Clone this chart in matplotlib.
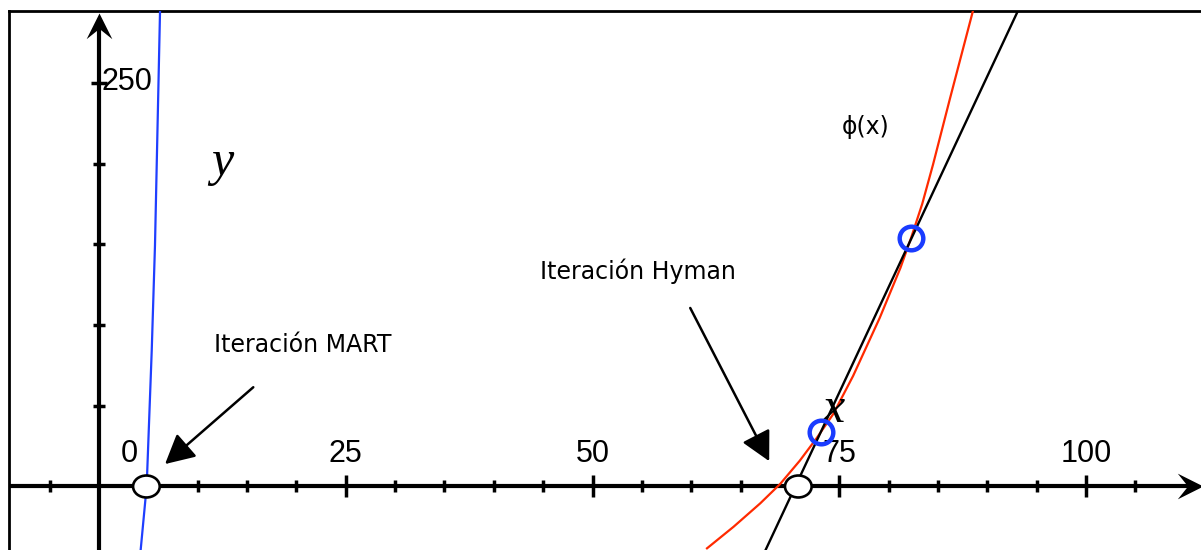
import numpy as np
import matplotlib.pyplot as plt
from matplotlib.patches import Ellipse
from matplotlib.path import Path

# curves
blue_x = [4.22, 4.83, 5.34, 5.67, 6.18, 6.25]
blue_y = [-39.3, 0.3, 84.1, 149.3, 294.0, 300.0]

red_x = [61.6, 64.3, 67.0, 69.0, 71.0, 72.7, 74.4, 76.4, 79.1, 81.2, 82.3, 83.4, 84.5, 86.2, 88.6, 88.8]
red_y = [-38.3, -24.9, -10.4, 1.5, 16.0, 29.9, 45.0, 68.5, 104.5, 135.5, 154.5, 175.0, 199.5, 240.0, 296.0, 300.0]

secant_x = [67.1, 93.2]
secant_y = [-45.0, 296.0]

iter_x = [73.1, 82.3]
iter_y = [34.0, 153.8]

root_x = [4.8, 70.85]
root_y = [0.0, 0.0]

major_ticks = [25, 50, 75, 100]
minor_ticks = [-5, 5, 10, 15, 20, 30, 35, 40, 45, 55, 60, 65, 70, 80, 85, 90, 95, 105]
y_minor = [50, 100, 150, 200]
y_major = [250]
tick_labels = ['0', '25', '50', '75', '100']
tick_label_x = [3.1, 25, 50, 75, 100]

fig = plt.figure(figsize=(12.01, 5.5), dpi=100)
ax = fig.add_axes([9/1201, -10/550, 1.0, 549/550])
ax.set_xlim(-9.12, 112.56)
ax.set_ylim(-45.54, 294.6)
ax.set_xticks([])
ax.set_yticks([])
for s in ['left', 'top']:
    ax.spines[s].set_linewidth(2)
for s in ['right', 'bottom']:
    ax.spines[s].set_visible(False)

# arrow-shaped markers for the axes ends
head_right = Path([(0, 0), (-1, 0.5), (-0.6, 0), (-1, -0.5), (0, 0)],
                  [Path.MOVETO, Path.LINETO, Path.LINETO, Path.LINETO, Path.CLOSEPOLY])
head_up = Path([(0, 0), (-0.5, -1), (0, -0.6), (0.5, -1), (0, 0)],
               [Path.MOVETO, Path.LINETO, Path.LINETO, Path.LINETO, Path.CLOSEPOLY])

ax.plot([-9.12, 110.8], [0, 0], color='black', lw=3, solid_capstyle='butt', zorder=2)
ax.plot([0, 0], [-46, 287], color='black', lw=3, solid_capstyle='butt', zorder=2)
ax.plot([111.85], [0], marker=head_right, ms=37, color='black', mew=0, zorder=3)
ax.plot([0], [293.2], marker=head_up, ms=37, color='black', mew=0, zorder=3)

# ticks
ax.plot(minor_ticks, [0]*len(minor_ticks), ls='none', marker='|', ms=8, mew=2.5, color='black', zorder=2)
ax.plot(major_ticks, [0]*len(major_ticks), ls='none', marker='|', ms=16, mew=2.5, color='black', zorder=2)
ax.plot([0]*len(y_minor), y_minor, ls='none', marker='_', ms=8, mew=2.5, color='black', zorder=2)
ax.plot([0]*len(y_major), y_major, ls='none', marker='_', ms=11, mew=2.5, color='black', zorder=2)

for lx, lab in zip(tick_label_x, tick_labels):
    ax.text(lx, 15.4, lab, ha='center', va='baseline', fontsize=22, family='Liberation Sans')
ax.text(0.3, 245.7, '250', ha='left', va='baseline', fontsize=22, family='Liberation Sans')

# curves
ax.plot(blue_x, blue_y, color='#1f3fff', lw=1.6, zorder=4)
ax.plot(red_x, red_y, color='#ff2a00', lw=1.6, zorder=4)
ax.plot(secant_x, secant_y, color='black', lw=1.7, zorder=4)

ax.plot(iter_x, iter_y, ls='none', marker='o', ms=17, mfc='none', mec='#1a3cff', mew=3.2, zorder=6)

for rx, ry in zip(root_x, root_y):
    ax.add_patch(Ellipse((rx, ry), 2.7, 13.6, facecolor='white', edgecolor='black', lw=1.9, zorder=7))

# labels
ax.text(12.5, 193.2, 'y', fontsize=36, style='italic', family='Liberation Serif', ha='center', va='baseline')
ax.text(74.4, 40.1, 'x', fontsize=36, style='italic', family='Liberation Serif', ha='center', va='baseline', zorder=5)
ax.text(77.7, 222.7, '\u03d5(x)', fontsize=17, family='DejaVu Sans', ha='center', va='center')

ax.text(20.6, 83.5, 'Iteración MART', fontsize=17, family='DejaVu Sans', ha='center', va='baseline')
ax.text(54.64, 128.4, 'Iteración Hyman', fontsize=17, family='DejaVu Sans', ha='center', va='baseline')

arrow_style = dict(arrowstyle='-|>,head_length=0.9,head_width=0.47', mutation_scale=20,
                   lw=1.8, color='black', shrinkA=0, shrinkB=0)
ax.annotate('', xy=(6.69, 13.9), xytext=(15.63, 61.5), arrowprops=arrow_style)
ax.annotate('', xy=(67.9, 15.7), xytext=(59.9, 110.6), arrowprops=arrow_style)

fig.savefig('out.png', dpi=100)
